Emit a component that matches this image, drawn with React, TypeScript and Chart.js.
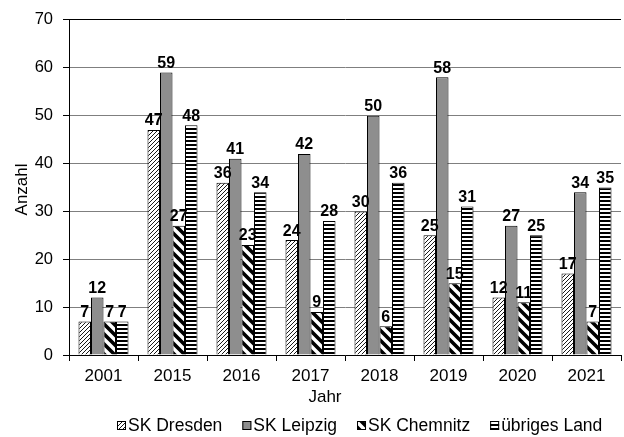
import React, { useEffect, useRef } from "react";
import { Chart, registerables } from "chart.js";

Chart.register(...registerables);

// Years on the category axis
const years = ["2001", "2015", "2016", "2017", "2018", "2019", "2020", "2021"];

// Counts per district
const dresden = [7, 47, 36, 24, 30, 25, 12, 17];
const leipzig = [12, 59, 41, 42, 50, 58, 27, 34];
const chemnitz = [7, 27, 23, 9, 6, 15, 11, 7];
const uebriges = [7, 48, 34, 28, 36, 31, 25, 35];

const seriesNames = ["SK Dresden", "SK Leipzig", "SK Chemnitz", "übriges Land"];

const yMax = 70;
const yStep = 10;

const FONT = "'Liberation Sans', Arial, sans-serif";

type PatternKind = "fineDiag" | "solid" | "wideBackDiag" | "hStripes";

function makeFill(ctx: CanvasRenderingContext2D, kind: PatternKind): CanvasPattern | string {
  if (kind === "solid") return "#8e8e8e";
  const tile = document.createElement("canvas");
  const s = kind === "fineDiag" ? 4 : kind === "wideBackDiag" ? 10 : 4;
  tile.width = s;
  tile.height = s;
  const t = tile.getContext("2d")!;
  t.fillStyle = "#ffffff";
  t.fillRect(0, 0, s, s);
  t.strokeStyle = "#000000";
  t.fillStyle = "#000000";
  if (kind === "fineDiag") {
    t.lineWidth = 0.9;
    t.beginPath();
    for (let o = -s; o <= s; o += s) {
      t.moveTo(o - 2, s + 2);
      t.lineTo(s + o + 2, -2);
    }
    t.stroke();
  } else if (kind === "wideBackDiag") {
    t.lineWidth = 3.6;
    t.beginPath();
    for (let o = -s; o <= s; o += s) {
      t.moveTo(-2, -2 + o);
      t.lineTo(s + 2, s + 2 + o);
    }
    t.stroke();
  } else {
    t.fillRect(0, 0, s, 2);
  }
  return ctx.createPattern(tile, "repeat")!;
}

const patternKinds: PatternKind[] = ["fineDiag", "solid", "wideBackDiag", "hStripes"];

export default function App() {
  const canvasRef = useRef<HTMLCanvasElement | null>(null);

  useEffect(() => {
    const canvas = canvasRef.current!;
    const ctx = canvas.getContext("2d")!;
    const fills = patternKinds.map((k) => makeFill(ctx, k));
    const seriesValues = [dresden, leipzig, chemnitz, uebriges];

    const overlay = {
      id: "overlay",
      afterDatasetsDraw(chart: any) {
        const c = chart.ctx as CanvasRenderingContext2D;
        c.save();
        c.fillStyle = "#000";
        c.font = `bold 16px ${FONT}`;
        c.textAlign = "center";
        c.textBaseline = "bottom";
        chart.data.datasets.forEach((ds: any, i: number) => {
          const meta = chart.getDatasetMeta(i);
          meta.data.forEach((bar: any, j: number) => {
            c.fillText(String(ds.data[j]), bar.x, bar.y - 1);
          });
        });
        c.restore();
      },
      afterDraw(chart: any) {
        const c = chart.ctx as CanvasRenderingContext2D;
        const area = chart.chartArea;
        c.save();
        c.fillStyle = "#000";
        // y-axis title
        c.font = `17px ${FONT}`;
        c.textAlign = "center";
        c.textBaseline = "middle";
        c.translate(22, (area.top + area.bottom) / 2 + 2);
        c.rotate(-Math.PI / 2);
        c.fillText("Anzahl", 0, 0);
        c.restore();

        c.save();
        c.fillStyle = "#000";
        c.font = `17px ${FONT}`;
        c.textAlign = "center";
        c.textBaseline = "middle";
        c.fillText("Jahr", 325, 397);

        // legend
        c.font = `17.5px ${FONT}`;
        c.textAlign = "left";
        let x = 117;
        const y = 426;
        seriesNames.forEach((name, i) => {
          c.fillStyle = fills[i] as any;
          c.fillRect(x, y - 5, 9, 9);
          c.strokeStyle = "#000";
          c.lineWidth = 1;
          c.strokeRect(x + 0.5, y - 4.5, 8, 8);
          c.fillStyle = "#000";
          c.fillText(name, x + 11, y);
          x += 11 + c.measureText(name).width + 20;
        });
        c.restore();
      },
    };

    const chart = new Chart(canvas, {
      type: "bar",
      data: {
        labels: years,
        datasets: seriesValues.map((vals, i) => ({
          label: seriesNames[i],
          data: vals,
          backgroundColor: fills[i] as any,
          borderColor: "#000",
          borderWidth: 1,
          categoryPercentage: 0.725,
          barPercentage: 1.0,
        })),
      },
      options: {
        animation: false,
        responsive: false,
        maintainAspectRatio: false,
        devicePixelRatio: 1,
        layout: { padding: { top: 15, right: 3, left: 0, bottom: 0 } },
        plugins: {
          legend: { display: false },
          tooltip: { enabled: false },
        },
        scales: {
          x: {
            afterFit(scale: any) {
              scale.height = 82;
            },
            grid: {
              display: true,
              drawOnChartArea: false,
              offset: true,
              tickLength: 6,
              tickColor: "#000",
            },
            border: { color: "#000", width: 1 },
            ticks: {
              color: "#000",
              font: { family: FONT, size: 17 },
              padding: 5,
              maxRotation: 0,
            },
          },
          y: {
            min: 0,
            max: yMax,
            afterFit(scale: any) {
              scale.width = 69;
            },
            grid: {
              color: (c: any) => (c.tick && c.tick.value === yMax ? "#000" : "#7f7f7f"),
              tickColor: "#000",
              tickLength: 6,
            },
            border: { color: "#000", width: 1 },
            ticks: {
              stepSize: yStep,
              color: "#000",
              font: { family: FONT, size: 16.5 },
              padding: 10,
            },
          },
        },
      },
      plugins: [overlay],
    });

    return () => chart.destroy();
  }, []);

  return (
    <div style={{ position: "fixed", left: 0, top: 0, width: 624, height: 437, background: "#fff" }}>
      <canvas ref={canvasRef} width={624} height={437} style={{ display: "block" }} />
    </div>
  );
}
